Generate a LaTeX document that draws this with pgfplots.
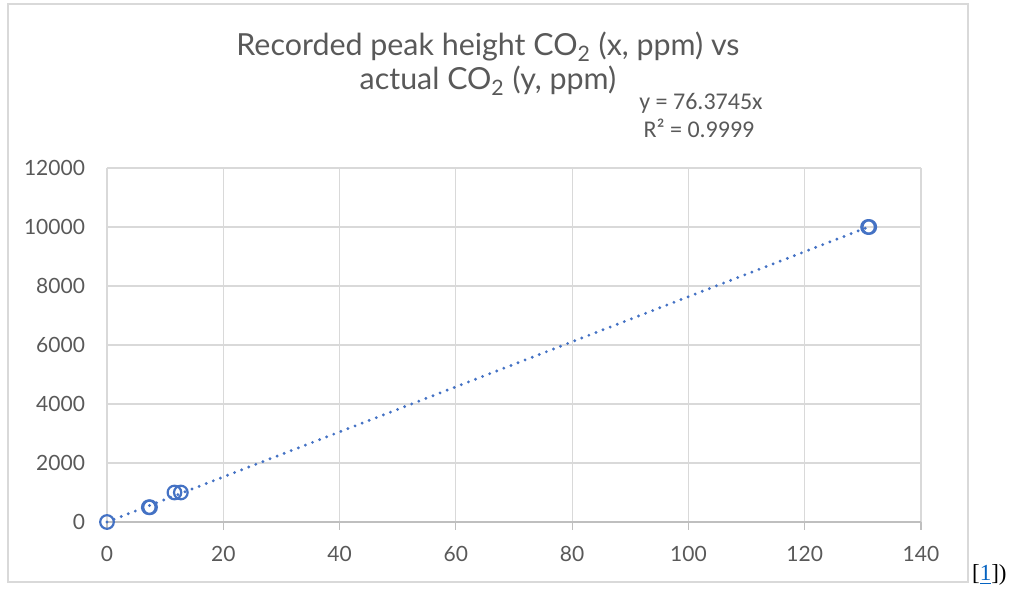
\documentclass[border=0pt]{standalone}
\usepackage{fontspec}
\setmainfont{Lato}
\newfontfamily\calib{Carlito}
\newfontfamily\serif{Liberation Serif}
\usepackage{pgfplots}
\pgfplotsset{compat=1.18}
\definecolor{ser}{HTML}{4472C4}
\definecolor{txt}{HTML}{595959}
\definecolor{grd}{HTML}{D9D9D9}
\definecolor{axl}{HTML}{BFBFBF}
\definecolor{lnk}{HTML}{0563C1}
\begin{document}
\begin{tikzpicture}[x=0.5pt,y=0.5pt]
\useasboundingbox (0,0) rectangle (1009,590);
\draw[grd, line width=1pt] (8,8) rectangle (968,586);
\begin{axis}[
  at={(53.5pt,34pt)}, anchor=south west,
  scale only axis, width=407pt, height=177pt,
  xmin=0, xmax=140, ymin=0, ymax=12000,
  xtick={0,20,...,140}, ytick={0,2000,...,12000},
  grid=major, major grid style={grd, line width=0.6pt},
  axis x line*=bottom, axis y line*=left,
  x axis line style={axl, line width=0.6pt, -},
  y axis line style={draw=none, -},
  xtick style={axl, line width=0.6pt}, tick align=outside, major tick length=4pt,
  ytick style={draw=none},
  /pgf/number format/assume math mode=true,
  /pgf/number format/1000 sep={},
  ticklabel style={font=\fontsize{10.5}{12}\selectfont, text=txt},
  yticklabel style={xshift=-3.5pt},
  xticklabel style={yshift=-4.5pt},
  scaled ticks=false,
  clip=false,
]
\addplot[ser, line width=1.6pt, dash pattern=on 0pt off 3.8pt, line cap=round, no marks] coordinates {(0,0) (131.1,10012.8)};
\addplot[only marks, mark=o, mark size=3.4pt, mark options={ser, line width=1.1pt}] coordinates {
(0,0) (7.2,500) (7.4,500) (11.6,1000) (12.7,1000) (130.9,10000) (131.1,10000)};
\end{axis}
\node[txt, font=\fontsize{15.2}{18}\selectfont, align=center, anchor=base] at (488,534) {Recorded peak height CO\textsubscript{2} (x, ppm) vs};
\node[txt, font=\fontsize{15.2}{18}\selectfont, align=center, anchor=base] at (488,500) {actual CO\textsubscript{2} (y, ppm)};
\node[txt, font=\calib\fontsize{12}{14}\selectfont, anchor=base] at (701,480) {y = 76.3745x};
\node[txt, font=\calib\fontsize{12}{14}\selectfont, anchor=base] at (699,452) {R² = 0.9999};
\node[font=\serif\fontsize{11.5}{14}\selectfont, anchor=base east, inner sep=0pt] at (1007,9) {[\textcolor{lnk}{\underline{1}}])};
\end{tikzpicture}
\end{document}
